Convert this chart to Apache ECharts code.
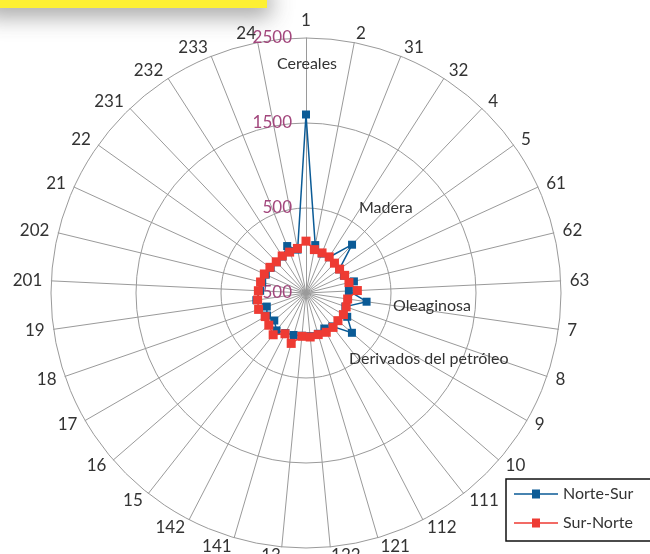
<!DOCTYPE html>
<html>
<head>
<meta charset="utf-8">
<title>Norte-Sur / Sur-Norte</title>
<script src="https://cdn.jsdelivr.net/npm/echarts@6/dist/echarts.min.js"></script>
<style>
  html, body { margin: 0; padding: 0; background: #ffffff; }
  #chart { width: 650px; height: 554px; }
</style>
</head>
<body>
<div id="chart"></div>
<script>
// Product codes, listed clockwise from the top of the web
const categories = ['1', '2', '31', '32', '4', '5', '61', '62', '63', '7', '8', '9', '10',
  '111', '112', '121', '122', '13', '141', '142', '15', '16', '17', '18', '19',
  '201', '202', '21', '22', '231', '232', '233', '24'];

// Flows per product code
const norteSur = [1600, 74, 0, 0, 285, -20, -10, 80, 5, 220, -10, 60, 215,
  0, -30, 0, 10, 5, 15, 30, 60, -6, 30, -12, 90,
  40, 30, 20, 10, 0, 10, 95, 20];
const surNorte = [110, 20, 8, 5, -15, -15, 0, 20, 105, -5, 0, 8, -3,
  15, 20, 10, 20, 12, 118, 40, 125, 79, 55, 90, 75,
  61, 50, 39, 21, 7, 18, 18, 34];

// Radial scale: rings at -500, 500, 1500, 2500
const axisMin = -500;
const axisMax = 2500;
const ringCount = 3;

const seriesNames = ['Norte-Sur', 'Sur-Norte'];
const seriesColors = ['#0b5b96', '#ee3b33'];

const FONT = 'Lato, "Open Sans", sans-serif';

// Radar indicators run counter-clockwise, so feed them in reverse after the first
const order = categories.map((_, i) => (categories.length - i) % categories.length);
const indicator = order.map((k, j) => {
  const ind = { name: categories[k], min: axisMin, max: axisMax };
  if (j === 0) ind.axisLabel = { show: true };
  return ind;
});
const pick = arr => order.map(k => arr[k]);

// Legend glyph: a short line with a square marker in the middle
const legendIcon = 'path://M0,4.35H44V5.65H0Z M18,0.5H26V9.5H18Z';

const chart = echarts.init(document.getElementById('chart'), null, { renderer: 'canvas' });

chart.setOption({
  backgroundColor: '#ffffff',
  animation: false,
  textStyle: { fontFamily: FONT },
  graphic: [
    {
      type: 'rect',
      z: 0,
      shape: { x: -20, y: -20, width: 287, height: 28 },
      style: {
        fill: '#fdf033',
        shadowBlur: 22,
        shadowOffsetY: 9,
        shadowOffsetX: 4,
        shadowColor: 'rgba(60,60,60,0.45)'
      }
    },
    { type: 'text', z: 10, x: 307, y: 64,
      style: { text: 'Cereales', fill: '#333', font: '16px ' + FONT, align: 'center', verticalAlign: 'middle' } },
    { type: 'text', z: 10, x: 359, y: 208,
      style: { text: 'Madera', fill: '#333', font: '16px ' + FONT, align: 'left', verticalAlign: 'middle' } },
    { type: 'text', z: 10, x: 393, y: 306,
      style: { text: 'Oleaginosa', fill: '#333', font: '16px ' + FONT, align: 'left', verticalAlign: 'middle' } },
    { type: 'text', z: 10, x: 349, y: 359,
      style: { text: 'Derivados del petróleo', fill: '#333', font: '16px ' + FONT, align: 'left', verticalAlign: 'middle' } }
  ],
  legend: {
    orient: 'vertical',
    left: 506,
    top: 479,
    padding: [7, 24, 10, 8],
    itemWidth: 44,
    itemHeight: 10,
    itemGap: 13,
    borderColor: '#111',
    borderWidth: 1.5,
    backgroundColor: '#ffffff',
    textStyle: { color: '#333', fontSize: 16, fontFamily: FONT },
    data: seriesNames.map(n => ({ name: n, icon: legendIcon }))
  },
  radar: {
    center: [306, 293],
    radius: 255,
    startAngle: 90,
    shape: 'circle',
    splitNumber: ringCount,
    nameGap: 9,
    indicator: indicator,
    axisName: { color: '#333', fontSize: 17, fontFamily: FONT },
    axisLine: { show: true, lineStyle: { color: '#9a9a9a', width: 1 } },
    axisTick: { show: false },
    axisLabel: {
      show: false,
      color: '#a2467c',
      fontSize: 17,
      fontFamily: FONT,
      margin: 14,
      padding: [0, 0, 7, 0],
      formatter: v => String(v)
    },
    splitLine: { show: true, lineStyle: { color: '#9a9a9a', width: 1 } },
    splitArea: { show: false }
  },
  series: [
    {
      type: 'radar',
      symbol: 'rect',
      symbolSize: 8,
      z: 3,
      data: [{
        name: seriesNames[0],
        value: pick(norteSur),
        itemStyle: { color: seriesColors[0] },
        lineStyle: { color: seriesColors[0], width: 1.5 }
      }]
    },
    {
      type: 'radar',
      symbol: 'rect',
      symbolSize: 9,
      z: 4,
      data: [{
        name: seriesNames[1],
        value: pick(surNorte),
        itemStyle: { color: seriesColors[1] },
        lineStyle: { color: seriesColors[1], width: 1.5 }
      }]
    }
  ]
});
</script>
</body>
</html>
